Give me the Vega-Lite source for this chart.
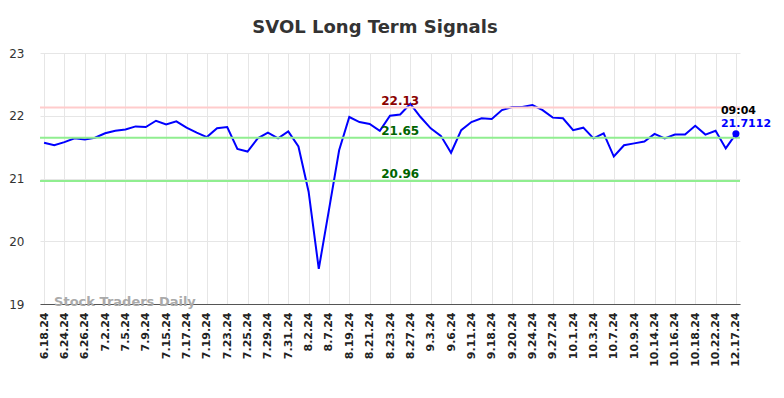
{
  "$schema": "https://vega.github.io/schema/vega-lite/v6.json",
  "width": 700,
  "height": 251,
  "autosize": {"type": "none"},
  "padding": {"left": 40, "top": 53, "right": 44, "bottom": 94},
  "background": "white",
  "title": {
    "text": "SVOL Long Term Signals",
    "fontSize": 18,
    "fontWeight": "bold",
    "font": "DejaVu Sans",
    "color": "#333333",
    "anchor": "middle",
    "dx": -15,
    "offset": 10
  },
  "config": {
    "view": {"stroke": null},
    "font": "DejaVu Sans"
  },
  "data": {
    "values": [
      {"date": "6.18.24", "value": 21.57},
      {"date": "6.20.24", "value": 21.53},
      {"date": "6.24.24", "value": 21.58},
      {"date": "6.25.24", "value": 21.64},
      {"date": "6.26.24", "value": 21.62},
      {"date": "6.28.24", "value": 21.65},
      {"date": "7.2.24", "value": 21.72},
      {"date": "7.3.24", "value": 21.76},
      {"date": "7.5.24", "value": 21.78},
      {"date": "7.8.24", "value": 21.83},
      {"date": "7.9.24", "value": 21.82},
      {"date": "7.11.24", "value": 21.92},
      {"date": "7.15.24", "value": 21.86},
      {"date": "7.16.24", "value": 21.91},
      {"date": "7.17.24", "value": 21.81},
      {"date": "7.18.24", "value": 21.73},
      {"date": "7.19.24", "value": 21.66},
      {"date": "7.22.24", "value": 21.80},
      {"date": "7.23.24", "value": 21.82},
      {"date": "7.24.24", "value": 21.47},
      {"date": "7.25.24", "value": 21.43},
      {"date": "7.26.24", "value": 21.64},
      {"date": "7.29.24", "value": 21.73},
      {"date": "7.30.24", "value": 21.64},
      {"date": "7.31.24", "value": 21.75},
      {"date": "8.1.24", "value": 21.51},
      {"date": "8.2.24", "value": 20.79},
      {"date": "8.5.24", "value": 19.56},
      {"date": "8.7.24", "value": 20.50},
      {"date": "8.16.24", "value": 21.45},
      {"date": "8.19.24", "value": 21.98},
      {"date": "8.20.24", "value": 21.90},
      {"date": "8.21.24", "value": 21.87},
      {"date": "8.22.24", "value": 21.76},
      {"date": "8.23.24", "value": 22.00},
      {"date": "8.26.24", "value": 22.02},
      {"date": "8.27.24", "value": 22.19},
      {"date": "8.29.24", "value": 21.98},
      {"date": "9.3.24", "value": 21.80},
      {"date": "9.5.24", "value": 21.68},
      {"date": "9.6.24", "value": 21.41},
      {"date": "9.10.24", "value": 21.77},
      {"date": "9.11.24", "value": 21.90},
      {"date": "9.13.24", "value": 21.96},
      {"date": "9.18.24", "value": 21.95},
      {"date": "9.19.24", "value": 22.09},
      {"date": "9.20.24", "value": 22.14},
      {"date": "9.23.24", "value": 22.14},
      {"date": "9.24.24", "value": 22.17},
      {"date": "9.26.24", "value": 22.09},
      {"date": "9.27.24", "value": 21.97},
      {"date": "9.30.24", "value": 21.96},
      {"date": "10.1.24", "value": 21.77},
      {"date": "10.2.24", "value": 21.81},
      {"date": "10.3.24", "value": 21.64},
      {"date": "10.4.24", "value": 21.72},
      {"date": "10.7.24", "value": 21.35},
      {"date": "10.8.24", "value": 21.53},
      {"date": "10.9.24", "value": 21.56},
      {"date": "10.11.24", "value": 21.59},
      {"date": "10.14.24", "value": 21.71},
      {"date": "10.15.24", "value": 21.64},
      {"date": "10.16.24", "value": 21.70},
      {"date": "10.17.24", "value": 21.70},
      {"date": "10.18.24", "value": 21.84},
      {"date": "10.21.24", "value": 21.70},
      {"date": "10.22.24", "value": 21.76},
      {"date": "10.23.24", "value": 21.48},
      {"date": "12.17.24", "value": 21.7112}
    ]
  },
  "encoding": {
    "x": {
      "field": "date",
      "type": "ordinal",
      "sort": null,
      "scale": {"type": "point", "padding": 0.4},
      "axis": {
        "title": null,
        "values": ["6.18.24", "6.24.24", "6.26.24", "7.2.24", "7.5.24", "7.9.24", "7.15.24", "7.17.24", "7.19.24", "7.23.24", "7.25.24", "7.29.24", "7.31.24", "8.2.24", "8.7.24", "8.19.24", "8.21.24", "8.23.24", "8.27.24", "9.3.24", "9.6.24", "9.11.24", "9.18.24", "9.20.24", "9.24.24", "9.27.24", "10.1.24", "10.3.24", "10.7.24", "10.9.24", "10.14.24", "10.16.24", "10.18.24", "10.22.24", "12.17.24"],
        "labelAngle": 270,
        "labelFontSize": 11,
        "labelFontWeight": "bold",
        "labelColor": "#222222",
        "labelPadding": 8,
        "ticks": false,
        "grid": true,
        "gridColor": "#e6e6e6",
        "domain": true,
        "domainColor": "#555555",
        "domainWidth": 1
      }
    }
  },
  "layer": [
    {
      "mark": {"type": "line", "color": "#0000ff", "strokeWidth": 2},
      "encoding": {
        "y": {
          "field": "value",
          "type": "quantitative",
          "scale": {"domain": [19, 23], "nice": false, "zero": false},
          "axis": {
            "title": null,
            "values": [19, 20, 21, 22, 23],
            "format": "d",
            "labelFontSize": 12,
            "labelColor": "#333333",
            "labelPadding": 16,
            "ticks": false,
            "domain": false,
            "grid": true,
            "gridColor": "#e6e6e6"
          }
        }
      }
    },
    {
      "data": {
        "values": [
          {"level": 22.13, "label": "22.13", "kind": "resistance"},
          {"level": 21.65, "label": "21.65", "kind": "support"},
          {"level": 20.96, "label": "20.96", "kind": "support"}
        ]
      },
      "mark": {"type": "rule", "strokeWidth": 2},
      "encoding": {
        "x": null,
        "y": {"field": "level", "type": "quantitative"},
        "color": {
          "condition": {"test": "datum.kind == 'resistance'", "value": "#ffcccc"},
          "value": "#90ee90"
        }
      }
    },
    {
      "data": {
        "values": [
          {"level": 22.13, "label": "22.13", "kind": "resistance"},
          {"level": 21.65, "label": "21.65", "kind": "support"},
          {"level": 20.96, "label": "20.96", "kind": "support"}
        ]
      },
      "mark": {"type": "text", "fontSize": 12, "fontWeight": "bold", "baseline": "alphabetic", "align": "center", "dy": -3},
      "encoding": {
        "x": {"datum": "8.26.24", "type": "ordinal"},
        "y": {"field": "level", "type": "quantitative"},
        "text": {"field": "label"},
        "color": {
          "condition": {"test": "datum.kind == 'resistance'", "value": "#8b0000"},
          "value": "#006400"
        }
      }
    },
    {
      "transform": [{"filter": "datum.date == '12.17.24'"}],
      "mark": {"type": "point", "filled": true, "color": "#0000ff", "size": 50, "opacity": 1},
      "encoding": {
        "y": {"field": "value", "type": "quantitative"}
      }
    },
    {
      "transform": [{"filter": "datum.date == '12.17.24'"}],
      "mark": {"type": "text", "fontSize": 11, "fontWeight": "bold", "color": "#0000ff", "align": "left", "baseline": "middle", "dx": -15, "dy": -10},
      "encoding": {
        "y": {"field": "value", "type": "quantitative"},
        "text": {"field": "value", "type": "quantitative", "format": ".4f"}
      }
    },
    {
      "transform": [{"filter": "datum.date == '12.17.24'"}],
      "mark": {"type": "text", "fontSize": 11, "fontWeight": "bold", "color": "#000000", "align": "left", "baseline": "middle", "dx": -15, "dy": -23},
      "encoding": {
        "y": {"field": "value", "type": "quantitative"},
        "text": {"value": "09:04"}
      }
    },
    {
      "transform": [{"filter": "datum.date == '6.18.24'"}],
      "mark": {"type": "text", "fontSize": 13, "fontWeight": "bold", "color": "#aaaaaa", "align": "left", "baseline": "middle", "dx": 10, "dy": -2},
      "encoding": {
        "y": {"datum": 19, "type": "quantitative"},
        "text": {"value": "Stock Traders Daily"}
      }
    }
  ]
}
